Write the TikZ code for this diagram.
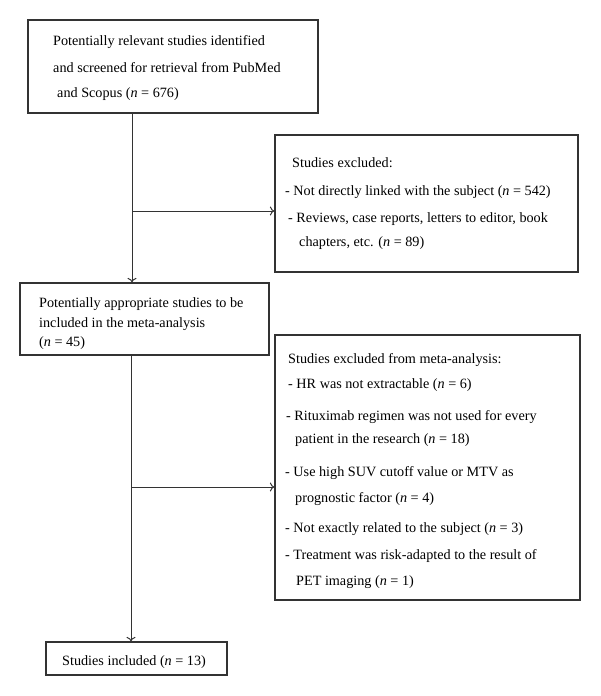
\documentclass[tikz,border=0pt]{standalone}
\usepackage{fontspec}
\setmainfont{Liberation Serif}
\usetikzlibrary{fit, arrows.meta}
\newcommand{\nn}{\textit{n}}

\begin{document}
\begin{tikzpicture}[x=1pt, y=-1pt,
		box/.style={draw=black!80, line width=1.2pt, inner sep=0pt},
		flow/.style={draw=black!80, line width=1pt, -{To[length=4.5pt, width=9pt]}},
		txt/.style={anchor=base west, inner sep=0pt, font=\fontsize{14.2}{16}\selectfont}]
	\useasboundingbox (0,0) rectangle (600,696);
	% boxes
	\node[box, fit={(28,20) (318,113)}] (found) {};
	\node[box, fit={(275,135) (578,272)}] (excl) {};
	\node[box, fit={(20,283) (269,355)}] (appr) {};
	\node[box, fit={(275,335) (580,600)}] (meta) {};
	\node[box, fit={(46,642) (227,675)}] (incl) {};
	% texts
	\node[txt] (found1) at (53,45) {Potentially relevant studies identified};
	\node[txt] (found2) at (53,72) {and screened for retrieval from PubMed};
	\node[txt] (found3) at (57,97) {and Scopus (\nn{} = 676)};
	\node[txt] (excl1) at (292,167) {Studies excluded:};
	\node[txt] (excl2) at (285,195) {- Not directly linked with the subject (\nn{} = 542)};
	\node[txt] (excl3) at (288,222) {- Reviews, case reports, letters to editor, book};
	\node[txt] (excl4) at (299,246) {chapters, etc. (\nn{} = 89)};
	\node[txt] (appr1) at (39,307) {Potentially appropriate studies to be};
	\node[txt] (appr2) at (39,327) {included in the meta-analysis};
	\node[txt] (appr3) at (39,346) {(\nn{} = 45)};
	\node[txt] (meta1) at (288,363) {Studies excluded from meta-analysis:};
	\node[txt] (meta2) at (288,388) {- HR was not extractable (\nn{} = 6)};
	\node[txt] (meta3) at (286,420) {- Rituximab regimen was not used for every};
	\node[txt] (meta4) at (295,443) {patient in the research (\nn{} = 18)};
	\node[txt] (meta5) at (285,476) {- Use high SUV cutoff value or MTV as};
	\node[txt] (meta6) at (295,502) {prognostic factor (\nn{} = 4)};
	\node[txt] (meta7) at (285,532) {- Not exactly related to the subject (\nn{} = 3)};
	\node[txt] (meta8) at (285,559) {- Treatment was risk-adapted to the result of};
	\node[txt] (meta9) at (296,585) {PET imaging (\nn{} = 1)};
	\node[txt] (incl1) at (62,665) {Studies included (\nn{} = 13)};
	% connectors
	\coordinate (split1) at (132,211);
	\coordinate (split2) at (131,487);
	\draw[flow] (found.south -| split1) -- (appr.north -| split1);
	\draw[flow] (split1) -- (excl.west |- split1);
	\draw[flow] (appr.south -| split2) -- (incl.north -| split2);
	\draw[flow] (split2) -- (meta.west |- split2);
\end{tikzpicture}
\end{document}
